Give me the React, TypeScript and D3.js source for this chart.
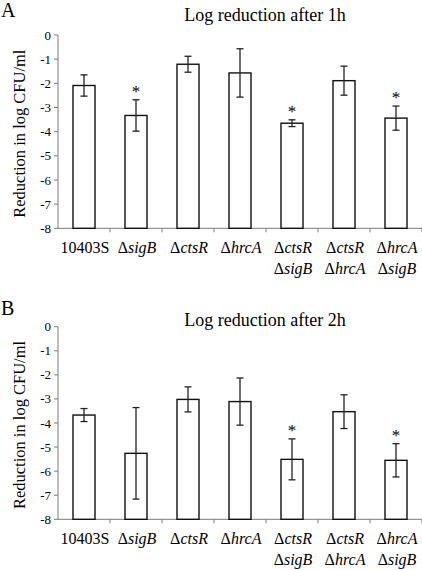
import React from "react";
import * as d3 from "d3";

const strains = ["10403S", "sigB", "ctsR", "hrcA", "ctsR|sigB", "ctsR|hrcA", "hrcA|sigB"];
const meansA = [-2.09, -3.33, -1.21, -1.57, -3.65, -1.89, -3.44];
const errA = [0.44, 0.65, 0.33, 1.0, 0.14, 0.6, 0.5];
const sigA = [false, true, false, false, true, false, true];
const meansB = [-3.67, -5.26, -3.02, -3.11, -5.51, -3.53, -5.55];
const errB = [0.27, 1.9, 0.52, 0.98, 0.85, 0.7, 0.69];
const sigB = [false, false, false, false, true, false, true];
const yTicks = [0, -1, -2, -3, -4, -5, -6, -7, -8];

const FONT = "Liberation Serif";
const tStyle = { fontFamily: FONT };

function Label({ name, x, y }: { name: string; x: number; y: number }) {
  if (name === "10403S") {
    return (
      <text x={x} y={y} textAnchor="middle" fontSize={16} style={tStyle}>
        {name}
      </text>
    );
  }
  const parts = name.split("|");
  return (
    <g>
      {parts.map((p, i) => (
        <text key={i} x={x} y={y + i * 21} textAnchor="middle" fontSize={16} style={tStyle}>
          <tspan>Δ</tspan>
          <tspan fontStyle="italic">{p}</tspan>
        </text>
      ))}
    </g>
  );
}

function Panel({
  letter,
  letterY,
  title,
  titleY,
  top,
  bottom,
  means,
  errs,
  sig,
}: {
  letter: string;
  letterY: number;
  title: string;
  titleY: number;
  top: number;
  bottom: number;
  means: number[];
  errs: number[];
  sig: boolean[];
}) {
  const left = 58;
  const right = 422;
  const x = d3.scaleBand<string>().domain(strains).range([left, right]).padding(0);
  const y = d3.scaleLinear().domain([-8, 0]).range([bottom, top]);
  const bw = 22;
  const axisColor = "#7a7a7a";
  return (
    <g fill="#000">
      <text x={1} y={letterY} fontSize={20} style={tStyle}>
        {letter}
      </text>
      <text x={265} y={titleY} textAnchor="middle" fontSize={18} style={tStyle}>
        {title}
      </text>
      <text
        transform={`translate(25,${(top + bottom) / 2 + 2}) rotate(-90)`}
        textAnchor="middle"
        fontSize={16.5}
        style={tStyle}
      >
        Reduction in log CFU/ml
      </text>
      <line x1={left} x2={left} y1={top} y2={bottom} stroke={axisColor} strokeWidth={1} />
      {yTicks.map((t) => (
        <g key={t}>
          <line x1={left - 4} x2={left} y1={y(t)} y2={y(t)} stroke={axisColor} strokeWidth={1} />
          <text x={51} y={y(t)} dy="0.35em" textAnchor="end" fontSize={13} style={tStyle}>
            {t}
          </text>
        </g>
      ))}
      <line x1={left} x2={right} y1={bottom} y2={bottom} stroke={axisColor} strokeWidth={1} />
      {strains.map((s) => (
        <line
          key={s}
          x1={(x(s) as number) + x.bandwidth()}
          x2={(x(s) as number) + x.bandwidth()}
          y1={bottom}
          y2={bottom + 4}
          stroke={axisColor}
          strokeWidth={1}
        />
      ))}
      {strains.map((s, i) => {
        const cx = (x(s) as number) + x.bandwidth() / 2;
        const yv = y(means[i]);
        const yHi = y(means[i] + errs[i]);
        const yLo = y(means[i] - errs[i]);
        return (
          <g key={s}>
            <rect
              x={cx - bw / 2}
              y={yv}
              width={bw}
              height={bottom - yv}
              fill="#fff"
              stroke="#111"
              strokeWidth={1.4}
            />
            <line x1={cx} x2={cx} y1={yHi} y2={yLo} stroke="#222" strokeWidth={1.3} />
            <line x1={cx - 3.5} x2={cx + 3.5} y1={yHi} y2={yHi} stroke="#222" strokeWidth={1.3} />
            <line x1={cx - 3.5} x2={cx + 3.5} y1={yLo} y2={yLo} stroke="#222" strokeWidth={1.3} />
            {sig[i] && (
              <text x={cx} y={yHi - 3} textAnchor="middle" fontSize={17} fill="#000" style={tStyle}>
                *
              </text>
            )}
          </g>
        );
      })}
      {strains.map((s) => (
        <Label key={s} name={s} x={(x(s) as number) + x.bandwidth() / 2 + 1} y={bottom + 25} />
      ))}
    </g>
  );
}

export default function App() {
  return (
    <svg
      width={422}
      height={570}
      style={{ position: "absolute", left: 0, top: 0, background: "#fff", fontFamily: FONT }}
    >
      <rect width={422} height={570} fill="#fff" />
      <Panel
        letter="A"
        letterY={17}
        title="Log reduction after 1h"
        titleY={21}
        top={35}
        bottom={228.3}
        means={meansA}
        errs={errA}
        sig={sigA}
      />
      <Panel
        letter="B"
        letterY={315}
        title="Log reduction after 2h"
        titleY={325.5}
        top={326.7}
        bottom={519.3}
        means={meansB}
        errs={errB}
        sig={sigB}
      />
    </svg>
  );
}
